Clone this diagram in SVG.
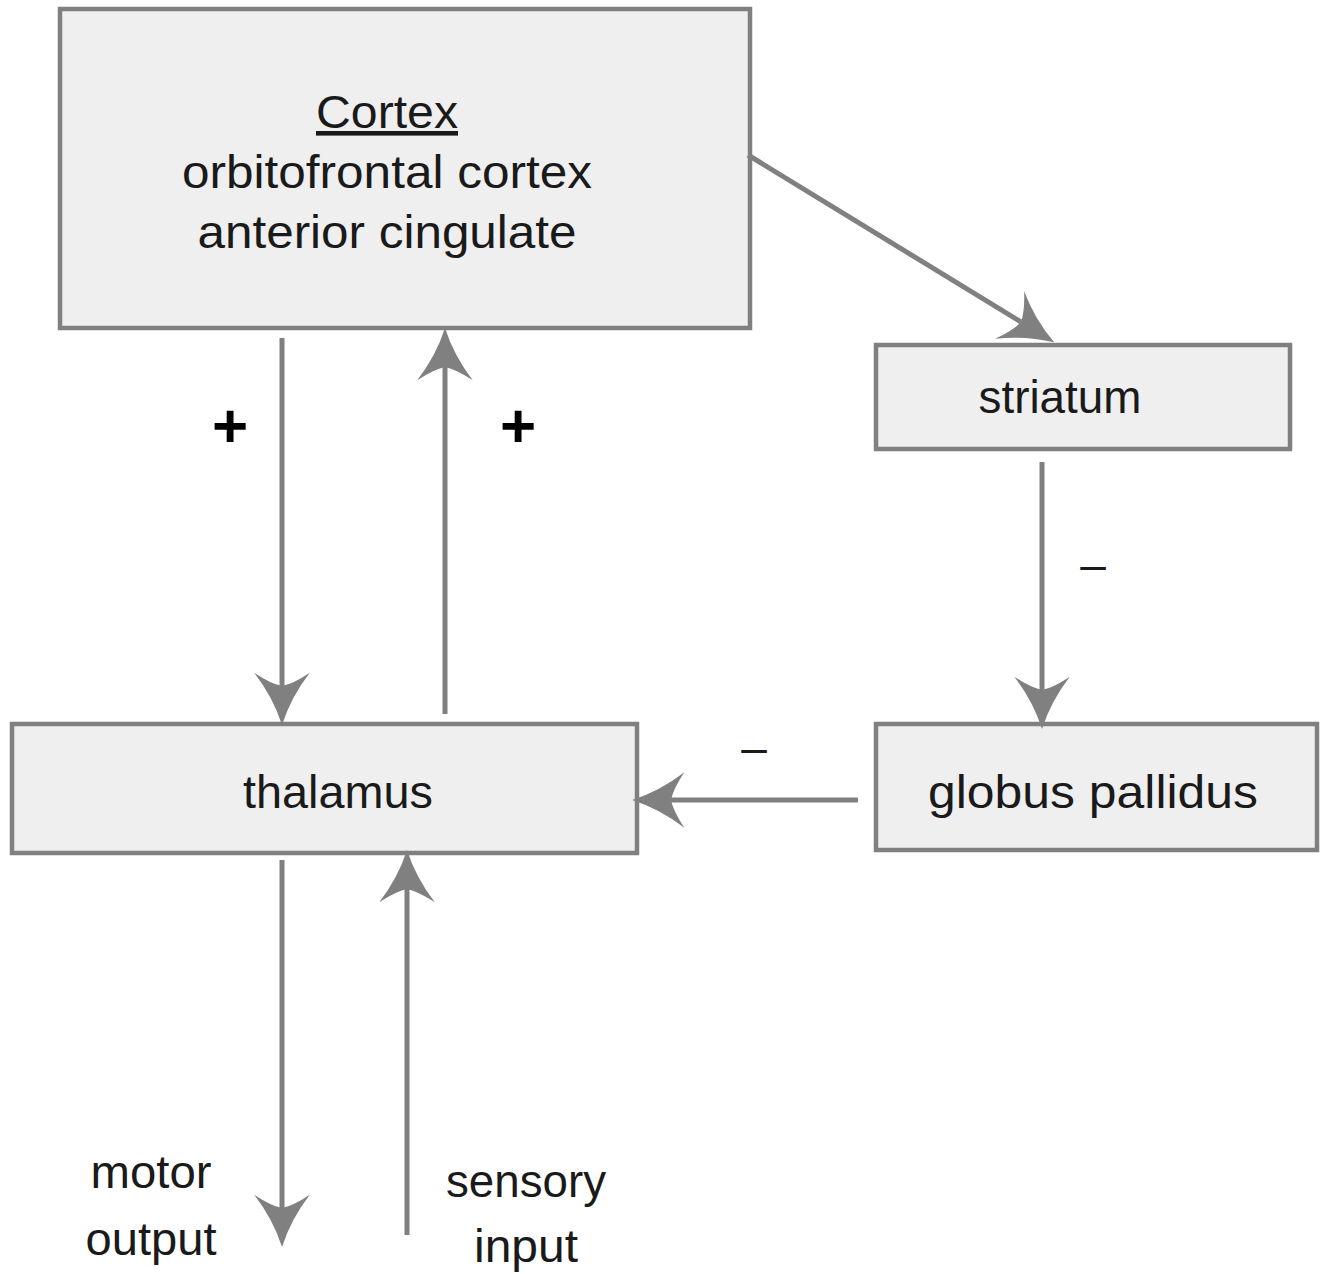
<svg xmlns="http://www.w3.org/2000/svg" width="1326" height="1274" viewBox="0 0 1326 1274">
<style>
.box{fill:#efefef;stroke:#808080;stroke-width:4.5}
.lbl{font-family:"Liberation Sans",Arial,sans-serif;font-size:46px;fill:#1a1a1a;text-anchor:middle}
.sign{font-family:"Liberation Sans",Arial,sans-serif;font-size:62px;font-weight:bold;fill:#000;text-anchor:middle}
.conn line{stroke:#808080;stroke-width:5;fill:none;marker-end:url(#arr)}
</style>
<defs>
<marker id="arr" markerUnits="userSpaceOnUse" markerWidth="60" markerHeight="60" viewBox="-14 -27 50 54" refX="0" refY="0" orient="auto" overflow="visible">
<path d="M35,0 Q10,-8 -12,-25 Q-2,-10 0,0 Q-2,10 -12,25 Q10,8 35,0 Z" fill="#808080"/>
</marker>
</defs>
<rect width="1326" height="1274" fill="#fff"/>
<g id="cortex">
<rect class="box" x="60" y="9" width="690" height="319"/>
<text class="lbl" x="387" y="128" text-decoration="underline" textLength="142" lengthAdjust="spacingAndGlyphs">Cortex</text>
<text class="lbl" x="387" y="188" textLength="410" lengthAdjust="spacingAndGlyphs">orbitofrontal cortex</text>
<text class="lbl" x="387" y="248" textLength="379" lengthAdjust="spacingAndGlyphs">anterior cingulate</text>
</g>
<g id="striatum">
<rect class="box" x="876" y="345" width="414" height="104"/>
<text class="lbl" x="1060" y="413" textLength="163" lengthAdjust="spacingAndGlyphs">striatum</text>
</g>
<g id="thalamus">
<rect class="box" x="12" y="724" width="625" height="129"/>
<text class="lbl" x="338" y="808" textLength="190" lengthAdjust="spacingAndGlyphs">thalamus</text>
</g>
<g id="globus-pallidus">
<rect class="box" x="876" y="724" width="441" height="126"/>
<text class="lbl" x="1093" y="808" textLength="330" lengthAdjust="spacingAndGlyphs">globus pallidus</text>
</g>
<g id="connectors" class="conn">
<line x1="282" y1="338" x2="282" y2="686"/>
<line x1="445" y1="714" x2="445" y2="367"/>
<line x1="748" y1="155" x2="1021" y2="322"/>
<line x1="1042" y1="462" x2="1042" y2="690"/>
<line x1="858" y1="800" x2="671" y2="800"/>
<line x1="282" y1="860" x2="282" y2="1208"/>
<line x1="407" y1="1235" x2="407" y2="889"/>
</g>
<g id="labels">
<text class="sign" x="230" y="447">+</text>
<text class="sign" x="518" y="447">+</text>
<text class="lbl" x="1093" y="580">–</text>
<text class="lbl" x="754" y="763">–</text>
<text class="lbl" x="151" y="1188" textLength="121" lengthAdjust="spacingAndGlyphs">motor</text>
<text class="lbl" x="151" y="1255" textLength="131" lengthAdjust="spacingAndGlyphs">output</text>
<text class="lbl" x="526" y="1197" textLength="160" lengthAdjust="spacingAndGlyphs">sensory</text>
<text class="lbl" x="526" y="1262" textLength="104" lengthAdjust="spacingAndGlyphs">input</text>
</g>
</svg>
